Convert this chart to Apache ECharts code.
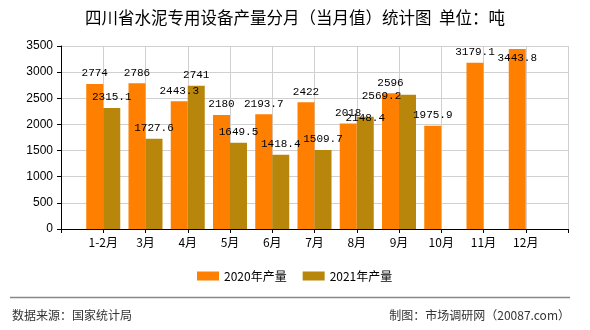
<!DOCTYPE html>
<html>
<head>
<meta charset="utf-8">
<script src="https://cdn.jsdelivr.net/npm/echarts@6/dist/echarts.min.js"></script>
<style>
html,body{margin:0;padding:0;background:#fff;}
#c{width:590px;height:330px;}
</style>
</head>
<body>
<div id="c"></div>
<script>
var categories = ['1-2月','3月','4月','5月','6月','7月','8月','9月','10月','11月','12月'];
var values2020 = [2774, 2786, 2443.3, 2180, 2193.7, 2422, 2018, 2596, 1975.9, 3179.1, 3443.8];
var values2021 = [2315.1, 1727.6, 2741, 1649.5, 1418.4, 1509.7, 2148.4, 2569.2, null, null, null];
var yTicks = [0, 500, 1000, 1500, 2000, 2500, 3000, 3500];

// label placement tweaks (style only), keyed by month index
var labelOffsets2020 = {10: [0, 20]};
var labelOffsets2021 = {6: [0, 12], 7: [-26, 12]};

var baseLabel = {
  show: true, position: 'top', distance: 5,
  fontFamily: 'Liberation Mono', fontSize: 11, color: '#000',
  formatter: function(p){ return p.value == null ? '' : String(p.value); }
};

function buildData(vals, offsets){
  var out = [null];
  vals.forEach(function(v, i){
    if (v == null) { out.push(null); return; }
    var item = {value: v};
    if (offsets[i]) item.label = {offset: offsets[i]};
    out.push(item);
  });
  out.push(null);
  return out;
}

var cats = [''].concat(categories).concat(['']);
var d2020 = buildData(values2020, labelOffsets2020);
var d2021 = buildData(values2021, labelOffsets2021);

var chart = echarts.init(document.getElementById('c'), null, {renderer:'canvas'});
chart.setOption({
  animation: false,
  backgroundColor: '#fff',
  title: {
    text: '四川省水泥专用设备产量分月（当月值）统计图  单位：吨',
    left: 85, top: 9, padding: 0,
    textStyle: {fontFamily: 'Noto Sans CJK SC', fontSize: 16.5, fontWeight: 'normal', color: '#000'}
  },
  legend: {
    data: ['2020年产量', '2021年产量'],
    left: 197, top: 270, padding: 0,
    itemWidth: 22, itemHeight: 9, itemGap: 16,
    icon: 'rect',
    textStyle: {fontFamily: 'Noto Sans CJK SC', fontSize: 12, color: '#000'}
  },
  grid: {left: 61, right: 22, top: 46, bottom: 101, containLabel: false},
  xAxis: {
    type: 'category',
    data: cats,
    boundaryGap: false,
    axisLine: {lineStyle: {color: '#000', width: 1}},
    axisTick: {show: true, length: 4, lineStyle: {color: '#000'}},
    axisLabel: {fontFamily: 'Noto Sans CJK SC', fontSize: 12, color: '#000', margin: 7},
    splitLine: {show: true, lineStyle: {color: '#d0d0d0', width: 1}}
  },
  yAxis: {
    type: 'value',
    min: yTicks[0], max: yTicks[yTicks.length-1], interval: 500,
    axisLine: {show: true, lineStyle: {color: '#000', width: 1}},
    axisTick: {show: true, length: 4, lineStyle: {color: '#000'}},
    axisLabel: {fontFamily: 'Liberation Sans', fontSize: 12, color: '#000', margin: 8,
                formatter: function(v){ return String(v); }},
    splitLine: {show: true, lineStyle: {color: '#d0d0d0', width: 1}}
  },
  series: [
    {name: '2020年产量', type: 'bar', data: d2020, barWidth: 17, barGap: '0%',
     itemStyle: {color: '#FF8000'}, label: baseLabel},
    {name: '2021年产量', type: 'bar', data: d2021, barWidth: 17, barGap: '0%',
     itemStyle: {color: '#B8860B'}, label: baseLabel}
  ],
  graphic: [
    {type: 'line', shape: {x1: 10, y1: 297.5, x2: 570, y2: 297.5}, style: {stroke: '#888', lineWidth: 1.5}},
    {type: 'text', left: 12, top: 309, style: {text: '数据来源：国家统计局', font: '12px "Noto Sans CJK SC"', fill: '#333'}},
    {type: 'text', right: 20, top: 309, style: {text: '制图：市场调研网（20087.com）', font: '12px "Noto Sans CJK SC"', fill: '#333'}}
  ]
});
</script>
</body>
</html>
